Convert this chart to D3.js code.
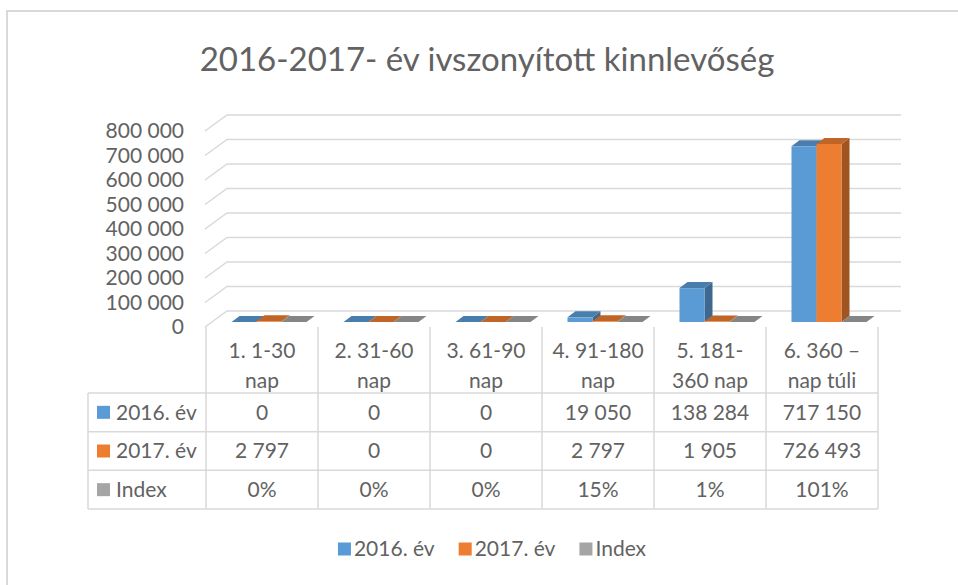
<!DOCTYPE html>
<meta charset="utf-8">
<style>
  body { margin: 0; background: #fff; }
  text { font-family: Lato, "Open Sans", sans-serif; fill: #626262; }
</style>
<body>
<script src="https://d3js.org/d3.v7.min.js"></script>
<script>
// chart data
var categories = ["1. 1-30\nnap", "2. 31-60\nnap", "3. 61-90\nnap", "4. 91-180\nnap", "5. 181-\n360 nap", "6. 360 \u2013\nnap túli"];
var seriesNames = ["2016. év", "2017. év", "Index"];
var values2016 = [0, 0, 0, 19050, 138284, 717150];
var values2017 = [2797, 0, 0, 2797, 1905, 726493];
var indexValues = [0, 0, 0, 0.15, 0.01, 1.01];
var colors = ["#5b9bd5", "#ed7d31", "#a5a5a5"];
var title = "2016-2017- év ivszonyított kinnlevőség";

var series = [values2016, values2017, indexValues];

var width = 958, height = 585;
var hu = d3.formatLocale({decimal: ",", thousands: "\u00a0", grouping: [3], currency: ["", " Ft"]});
var fmtNum = hu.format(",d");
var fmtPct = d3.format(".0%");

var svg = d3.select("body").append("svg")
    .attr("width", width)
    .attr("height", height);

// frame
svg.append("rect")
    .attr("x", 7).attr("y", 11)
    .attr("width", 1000).attr("height", 620)
    .attr("fill", "none")
    .attr("stroke", "#d9d9d9")
    .attr("stroke-width", 2);

svg.append("text")
    .attr("x", 487).attr("y", 59)
    .attr("dy", "0.35em")
    .attr("text-anchor", "middle")
    .style("font-size", "33px")
    .text(title);

var left = 206, right = 878;
var depth = [22, -16];      // wall depth
var barDepth = [8, -6];

var x = d3.scaleBand().domain(d3.range(categories.length)).range([left, right]);
var xs = d3.scaleBand().domain(seriesNames).range([0, 75]);
var y = d3.scaleLinear().domain([0, 800000]).range([327, 131]);

// gridlines on side + back wall
var grid = svg.append("g")
    .attr("fill", "none")
    .attr("stroke", "#d9d9d9")
    .attr("stroke-width", 1.5);

grid.selectAll("path")
  .data(y.ticks(8))
  .join("path")
    .attr("d", d => {
      var y0 = y(d);
      return "M" + (left - 1) + "," + y0 +
             "L" + (left - 1 + depth[0]) + "," + (y0 + depth[1]) +
             "L" + (right + depth[0] + 1) + "," + (y0 + depth[1]);
    });

svg.append("g")
    .attr("text-anchor", "end")
    .style("font-size", "21px")
  .selectAll("text")
  .data(y.ticks(8))
  .join("text")
    .attr("x", 184)
    .attr("y", d => y(d))
    .attr("dy", "0.35em")
    .text(d => fmtNum(d));

// bars, drawn left to right so neighbours cover side faces
var off = (x.bandwidth() - 75) / 2 + 7;
var base = y(0) - 5;
var bars = [];
categories.forEach((c, i) => {
  seriesNames.forEach((s, j) => {
    bars.push({i: i, j: j, v: series[j][i]});
  });
});

var barG = svg.append("g");
bars.forEach(b => {
  var xl = x(b.i) + off + xs(seriesNames[b.j]);
  var xr = xl + xs.bandwidth();
  var h = y(0) - y(b.v);
  var yt = base - h;
  var c = d3.color(colors[b.j]);
  var g = barG.append("g");
  g.append("polygon")
      .attr("points", [[xr, base], [xr + barDepth[0], base + barDepth[1]], [xr + barDepth[0], yt + barDepth[1]], [xr, yt]].join(" "))
      .attr("fill", c.darker(1.1));
  g.append("polygon")
      .attr("points", [[xl, yt], [xl + barDepth[0], yt + barDepth[1]], [xr + barDepth[0], yt + barDepth[1]], [xr, yt]].join(" "))
      .attr("fill", c.darker(0.6));
  g.append("rect")
      .attr("x", xl).attr("y", yt)
      .attr("width", xs.bandwidth()).attr("height", h)
      .attr("fill", c);
});

// data table
var rows = d3.scaleBand().domain(seriesNames).range([393, 509]);
var table = svg.append("g")
    .attr("stroke", "#d9d9d9")
    .attr("stroke-width", 1.5);

table.selectAll("line.h")
  .data(seriesNames.concat(["end"]))
  .join("line")
    .attr("x1", 88).attr("x2", right)
    .attr("y1", d => d == "end" ? rows.range()[1] : rows(d))
    .attr("y2", d => d == "end" ? rows.range()[1] : rows(d));

table.selectAll("line.v")
  .data(d3.range(categories.length + 1))
  .join("line")
    .attr("x1", d => left + d * x.bandwidth())
    .attr("x2", d => left + d * x.bandwidth())
    .attr("y1", 327).attr("y2", rows.range()[1]);

table.append("line")
    .attr("x1", 88).attr("x2", 88)
    .attr("y1", rows.range()[0]).attr("y2", rows.range()[1]);

var txt = svg.append("g").style("font-size", "21px").attr("text-anchor", "middle");

categories.forEach((c, i) => {
  c.split("\n").forEach((line, k) => {
    txt.append("text")
        .attr("x", x(i) + x.bandwidth() / 2)
        .attr("y", 351 + k * 30)
        .attr("dy", "0.35em")
        .text(line);
  });
  series.forEach((s, j) => {
    txt.append("text")
        .attr("x", x(i) + x.bandwidth() / 2)
        .attr("y", rows(seriesNames[j]) + rows.bandwidth() / 2)
        .attr("dy", "0.35em")
        .text(j == 2 ? fmtPct(s[i]) : fmtNum(s[i]));
  });
});

seriesNames.forEach((s, j) => {
  var cy = rows(s) + rows.bandwidth() / 2;
  svg.append("rect")
      .attr("x", 97).attr("y", cy - 6.5)
      .attr("width", 13).attr("height", 13)
      .attr("fill", colors[j]);
  svg.append("text")
      .attr("x", 116).attr("y", cy)
      .attr("dy", "0.35em")
      .style("font-size", "21px")
      .text(s);
});

// legend
var legend = svg.append("g").style("font-size", "21px");
var lx = 0;
seriesNames.forEach((s, j) => {
  var item = legend.append("g").attr("transform", "translate(" + lx + ",0)");
  item.append("rect")
      .attr("x", 0).attr("y", -6.5)
      .attr("width", 13).attr("height", 13)
      .attr("fill", colors[j]);
  var t = item.append("text")
      .attr("x", 16)
      .attr("dy", "0.35em")
      .text(s);
  lx += 16 + t.node().getComputedTextLength() + 24;
});
lx -= 24;
legend.attr("transform", "translate(" + (492 - lx / 2) + ",549)");
</script>
</body>
</html>
